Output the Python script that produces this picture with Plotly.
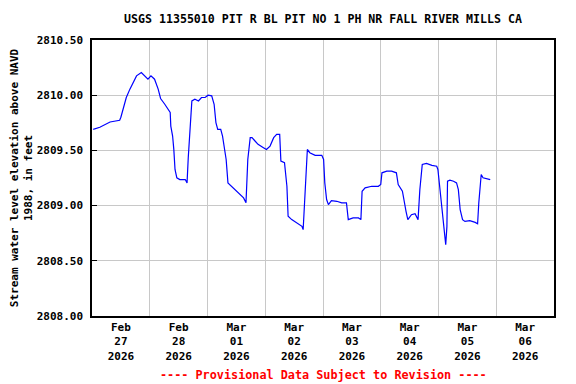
import plotly.graph_objects as go

times = [
    "2026-02-27 00:30", "2026-02-27 03:15", "2026-02-27 07:30", "2026-02-27 11:30",
    "2026-02-27 12:00", "2026-02-27 13:15", "2026-02-27 14:15", "2026-02-27 15:45",
    "2026-02-27 17:00", "2026-02-27 18:30", "2026-02-27 20:30", "2026-02-27 22:00",
    "2026-02-27 23:15",
    "2026-02-28 00:30", "2026-02-28 02:00", "2026-02-28 03:30", "2026-02-28 04:30",
    "2026-02-28 06:15", "2026-02-28 07:30", "2026-02-28 08:30", "2026-02-28 08:45",
    "2026-02-28 09:30", "2026-02-28 10:00", "2026-02-28 10:30", "2026-02-28 11:15",
    "2026-02-28 12:30", "2026-02-28 14:45", "2026-02-28 15:30", "2026-02-28 16:00",
    "2026-02-28 16:45", "2026-02-28 17:30", "2026-02-28 18:45", "2026-02-28 20:15",
    "2026-02-28 21:30", "2026-02-28 23:00",
    "2026-03-01 00:15", "2026-03-01 01:45", "2026-03-01 02:45", "2026-03-01 03:30",
    "2026-03-01 04:15", "2026-03-01 05:30", "2026-03-01 06:15", "2026-03-01 07:00",
    "2026-03-01 07:45", "2026-03-01 08:30", "2026-03-01 10:00", "2026-03-01 11:45",
    "2026-03-01 13:30", "2026-03-01 15:00", "2026-03-01 16:00", "2026-03-01 16:15",
    "2026-03-01 16:45", "2026-03-01 17:45", "2026-03-01 18:30", "2026-03-01 19:45",
    "2026-03-01 21:00", "2026-03-01 23:15",
    "2026-03-02 00:30", "2026-03-02 02:00", "2026-03-02 03:30", "2026-03-02 04:45",
    "2026-03-02 06:00", "2026-03-02 06:30", "2026-03-02 08:00", "2026-03-02 09:00",
    "2026-03-02 09:30", "2026-03-02 11:00", "2026-03-02 13:00", "2026-03-02 15:15",
    "2026-03-02 15:45", "2026-03-02 16:15", "2026-03-02 16:45", "2026-03-02 17:30",
    "2026-03-02 18:30", "2026-03-02 20:45", "2026-03-02 23:30",
    "2026-03-03 00:15", "2026-03-03 00:45", "2026-03-03 01:30", "2026-03-03 02:15",
    "2026-03-03 03:30", "2026-03-03 05:45", "2026-03-03 07:45", "2026-03-03 09:45",
    "2026-03-03 10:30", "2026-03-03 12:30", "2026-03-03 14:45", "2026-03-03 15:45",
    "2026-03-03 16:15", "2026-03-03 17:30", "2026-03-03 20:15", "2026-03-03 23:00",
    "2026-03-04 00:00", "2026-03-04 00:30", "2026-03-04 02:30", "2026-03-04 04:30",
    "2026-03-04 06:30", "2026-03-04 07:15", "2026-03-04 09:00", "2026-03-04 10:30",
    "2026-03-04 11:15", "2026-03-04 12:45", "2026-03-04 14:15", "2026-03-04 15:30",
    "2026-03-04 16:15", "2026-03-04 17:15", "2026-03-04 19:00", "2026-03-04 21:15",
    "2026-03-04 23:15", "2026-03-04 23:45",
    "2026-03-05 00:30", "2026-03-05 01:15", "2026-03-05 02:00", "2026-03-05 02:30",
    "2026-03-05 03:00", "2026-03-05 03:30", "2026-03-05 03:45", "2026-03-05 04:45",
    "2026-03-05 06:15", "2026-03-05 07:30", "2026-03-05 08:15", "2026-03-05 09:00",
    "2026-03-05 10:00", "2026-03-05 11:00", "2026-03-05 13:00", "2026-03-05 15:15",
    "2026-03-05 16:15", "2026-03-05 16:45", "2026-03-05 17:45", "2026-03-05 18:30",
    "2026-03-05 20:00", "2026-03-05 21:30",
]

elevation_ft = [
    2809.69, 2809.71, 2809.757, 2809.773,
    2809.80, 2809.903, 2809.979, 2810.055,
    2810.115, 2810.175, 2810.206, 2810.175,
    2810.145,
    2810.175, 2810.145, 2810.055, 2809.97,
    2809.918, 2809.873, 2809.843, 2809.72,
    2809.63, 2809.509, 2809.327, 2809.252,
    2809.236, 2809.236, 2809.206, 2809.434,
    2809.691, 2809.948, 2809.964, 2809.948,
    2809.979, 2809.979,
    2810.0, 2809.994, 2809.918, 2809.752,
    2809.691, 2809.691, 2809.63, 2809.539,
    2809.418, 2809.206, 2809.175, 2809.13,
    2809.10, 2809.07, 2809.025, 2809.175,
    2809.418, 2809.615, 2809.615, 2809.585,
    2809.555, 2809.525,
    2809.509, 2809.539, 2809.615, 2809.645,
    2809.645, 2809.403, 2809.388, 2809.175,
    2808.903, 2808.873, 2808.843, 2808.812,
    2808.782, 2808.994, 2809.266, 2809.509,
    2809.479, 2809.455, 2809.455,
    2809.418, 2809.206, 2809.055, 2809.009,
    2809.045, 2809.039, 2809.025, 2809.025,
    2808.873, 2808.888, 2808.888, 2808.873,
    2809.13, 2809.161, 2809.175, 2809.175,
    2809.191, 2809.297, 2809.312, 2809.312,
    2809.297, 2809.191, 2809.13, 2808.948,
    2808.873, 2808.918, 2808.927, 2808.873,
    2809.145, 2809.373, 2809.382, 2809.364,
    2809.357, 2809.327,
    2809.175, 2809.025, 2808.873, 2808.752,
    2808.645, 2808.812, 2809.221, 2809.23,
    2809.221, 2809.206, 2809.145, 2808.964,
    2808.873, 2808.857, 2808.864, 2808.848,
    2808.836, 2809.025, 2809.282, 2809.252,
    2809.243, 2809.236,
]

title_text = "USGS 11355010 PIT R BL PIT NO 1 PH NR FALL RIVER MILLS CA"
y_title = "Stream water level elevation above NAVD<br>1988, in feet"
note_text = "---- Provisional Data Subject to Revision ----"

FONT = "DejaVu Sans Mono"

fig = go.Figure()
fig.add_trace(go.Scatter(
    x=times, y=elevation_ft, mode="lines",
    line=dict(color="#0000ff", width=1.2),
    showlegend=False, hoverinfo="skip",
))

# the page body has an 8px margin, so the figure is shifted by 8px
fig.update_layout(
    width=568, height=376,
    margin=dict(l=84, r=22, t=32, b=68),
    paper_bgcolor="white", plot_bgcolor="white",
    font=dict(family=FONT, size=11, color="black", weight="bold"),
    title=dict(text=title_text, x=0.5546, xanchor="center", y=0.97, yanchor="middle",
               font=dict(family=FONT, size=11.6, color="black", weight="bold")),
    xaxis=dict(
        type="date",
        range=["2026-02-27 00:00", "2026-03-07 00:00"],
        tick0="2026-02-27", dtick=86400000,
        tickformat="%b<br>%d<br>%Y", ticklabelmode="period",
        showgrid=True, gridcolor="#c8c8c8", gridwidth=1,
        showline=True, linecolor="black", linewidth=1.5, mirror=True,
        ticks="", zeroline=False, automargin=False,
        tickfont=dict(family=FONT, size=11, color="black", weight="bold"),
    ),
    yaxis=dict(
        range=[2808.0, 2810.5], tick0=2808, dtick=0.5, tickformat=".2f",
        showgrid=True, gridcolor="#c8c8c8", gridwidth=1,
        showline=True, linecolor="black", linewidth=1.5, mirror=True,
        ticks="inside", ticklen=5, tickcolor="black", zeroline=False,
        automargin=False, ticklabelstandoff=5,
        tickfont=dict(family=FONT, size=11, color="black", weight="bold"),
        title=dict(text=y_title, standoff=2,
                   font=dict(family=FONT, size=11, color="black", weight="bold")),
    ),
    annotations=[dict(
        text=note_text, xref="paper", yref="paper", x=0.5, y=-0.215,
        xanchor="center", yanchor="middle", showarrow=False,
        font=dict(family=FONT, size=11.8, color="red", weight="bold"),
    )],
)

fig.write_html("out.html")
